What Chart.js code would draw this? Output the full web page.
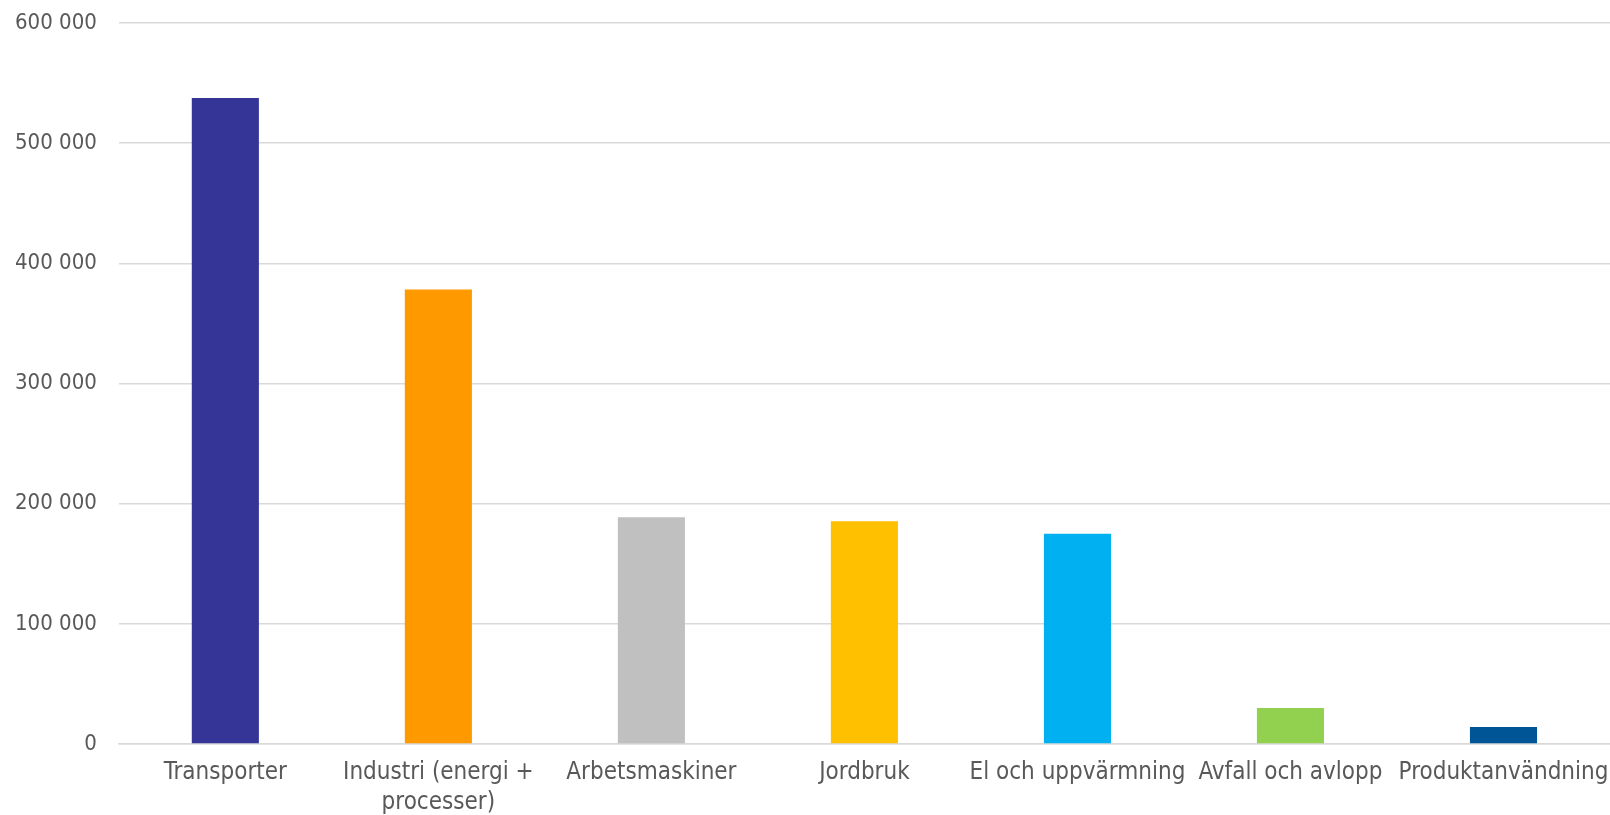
<!DOCTYPE html>
<html>
<head>
<meta charset="utf-8">
<script src="https://cdn.jsdelivr.net/npm/chart.js@4/dist/chart.umd.min.js"></script>
<style>
  html, body { margin: 0; padding: 0; background: #fff; }
  #wrap { width: 1610px; height: 815px; }
</style>
</head>
<body>
<div id="wrap"><canvas id="chart"></canvas></div>
<script>
// Utsläpp per sektor
const categories = [
    'Transporter',
    ['Industri (energi +', 'processer)'],
    'Arbetsmaskiner',
    'Jordbruk',
    'El och uppvärmning',
    'Avfall och avlopp',
    'Produktanvändning'
];
const values = [537500, 378300, 188700, 185300, 175000, 30000, 14200];
const barColors = ['#353598', '#FF9900', '#C0C0C0', '#FFC000', '#00B0F0', '#92D050', '#005596'];
const yTicks = [0, 100000, 200000, 300000, 400000, 500000, 600000];

Chart.defaults.font.family = "'DejaVu Sans Condensed', 'DejaVu Sans', sans-serif";
Chart.defaults.color = '#595959';

function formatNumber(v) {
    return String(v).replace(/\B(?=(\d{3})+(?!\d))/g, ' ');
}

new Chart(document.getElementById('chart').getContext('2d'), {
    type: 'bar',
    data: {
        labels: categories,
        datasets: [{
            data: values,
            backgroundColor: barColors,
            borderWidth: 0,
            barPercentage: 0.315,
            categoryPercentage: 1
        }]
    },
    options: {
        responsive: true,
        maintainAspectRatio: false,
        animation: false,
        layout: { padding: { top: 23, right: 0, bottom: -3, left: 15 } },
        plugins: {
            legend: { display: false },
            tooltip: { enabled: false }
        },
        scales: {
            x: {
                // invisible grid, the tick length only pushes the labels down
                grid: { color: 'transparent', drawTicks: true, tickLength: 14 },
                border: { color: '#d9d9d9', width: 1.5 },
                ticks: { maxRotation: 0, autoSkip: false, padding: 0, font: { size: 24, lineHeight: 1.25 } }
            },
            y: {
                min: 0,
                max: 600000,
                afterBuildTicks: axis => { axis.ticks = yTicks.map(v => ({ value: v })); },
                grid: { color: '#d9d9d9', lineWidth: 1.5, drawTicks: true, tickLength: 22, tickColor: 'transparent' },
                border: { display: false },
                ticks: { padding: 0, font: { size: 22 }, callback: v => formatNumber(v) }
            }
        }
    }
});
</script>
</body>
</html>
